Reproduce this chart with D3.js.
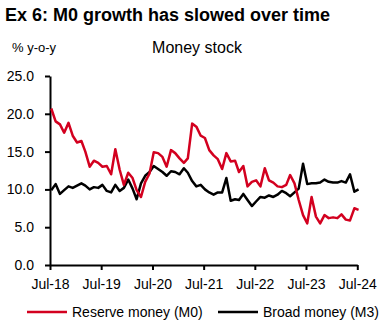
<!DOCTYPE html>
<html>
<head>
<meta charset="utf-8">
<style>
    body { margin: 0; background: #ffffff; }
    svg text { font-family: Arial, "Liberation Sans", Helvetica, sans-serif; fill: #000; }
    .axis path, .axis line { stroke: #000; stroke-width: 2px; }
    .axis text { font-size: 14px; }
</style>
</head>
<body>
<svg width="390" height="330" id="chart"></svg>
<script charset="utf-8" src="https://cdn.jsdelivr.net/npm/d3@7"></script>
<script charset="utf-8">

// monthly, Jul-18 .. Jul-24, % y-o-y
var startYear = 2018, startMonth = 6;

var reserveMoney = [
    20.7, 19.0, 18.6, 17.5, 18.8, 17.1, 16.2, 16.4, 15.0, 13.0,
    13.8, 13.5, 13.0, 13.1, 12.0, 15.3, 12.6, 10.6, 12.2, 11.5,
    9.9, 9.0, 11.0, 12.1, 14.9, 14.8, 14.3, 13.0, 15.2, 14.8,
    14.1, 13.5, 14.1, 18.7, 18.3, 17.1, 16.8, 15.2, 14.5, 14.0,
    12.7, 14.8, 13.7, 13.8, 12.3, 13.1, 10.4, 11.0, 11.2, 10.4,
    12.8, 11.2, 10.9, 10.4, 10.3, 10.6, 11.9, 10.8, 8.6, 6.6,
    5.5, 9.0, 6.4, 5.5, 6.6, 6.2, 6.3, 6.2, 6.7, 6.0,
    5.9, 7.5, 7.3
];

var broadMoney = [
    9.9, 10.7, 9.4, 9.9, 10.4, 10.2, 10.5, 10.8, 10.5, 10.0,
    10.3, 10.2, 10.6, 9.8, 9.6, 10.6, 9.8, 10.2, 11.3, 10.1,
    8.7, 10.8, 11.8, 12.3, 13.1, 12.7, 12.3, 11.8, 12.4, 12.3,
    12.0, 12.8, 12.2, 11.1, 10.4, 10.6, 10.0, 9.6, 9.3, 9.6,
    9.6, 11.5, 8.5, 8.7, 8.6, 9.4, 8.6, 7.8, 8.4, 9.0,
    8.9, 9.2, 9.0, 9.3, 9.8, 9.5, 9.1, 9.6, 10.1, 13.4,
    10.7, 10.8, 10.8, 10.9, 11.3, 11.0, 10.9, 10.9, 11.1, 10.9,
    12.0, 9.7, 10.0
];

var yTicks = [0, 5, 10, 15, 20, 25];
var xTickLabels = ["Jul-18", "Jul-19", "Jul-20", "Jul-21", "Jul-22", "Jul-23", "Jul-24"];

var seriesNames = ["Reserve money (M0)", "Broad money (M3)"];
var seriesColors = ["#d3001f", "#000000"];

var svg = d3.select("#chart");

var x = d3.scaleTime()
    .domain([new Date(2018, 6, 1), new Date(2024, 6, 1)])
    .range([50, 357.3]);

var y = d3.scaleLinear()
    .domain([0, 25])
    .range([265, 76]);

function monthDate(i) {
    return new Date(startYear, startMonth + i, 10);
}

// title + sub labels
svg.append("text")
    .attr("x", 5).attr("y", 21)
    .attr("font-size", "18px")
    .attr("font-weight", "bold")
    .text("Ex 6: M0 growth has slowed over time");

svg.append("text")
    .attr("x", 12).attr("y", 52)
    .attr("font-size", "13px")
    .text("% y-o-y");

svg.append("text")
    .attr("x", 197).attr("y", 53)
    .attr("font-size", "16px")
    .attr("text-anchor", "middle")
    .text("Money stock");

// axes
var xTickDates = xTickLabels.map(function(d, i) { return new Date(2018 + i, 6, 1); });

svg.append("g")
    .attr("class", "axis")
    .attr("transform", "translate(0," + y(0) + ")")
    .call(d3.axisBottom(x)
        .tickValues(xTickDates)
        .tickSizeInner(5).tickSizeOuter(0)
        .tickPadding(9)
        .tickFormat(function(d, i) { return xTickLabels[i]; }));

svg.append("g")
    .attr("class", "axis")
    .attr("transform", "translate(" + x.range()[0] + ",0)")
    .call(d3.axisLeft(y)
        .tickValues(yTicks)
        .tickSizeInner(5).tickSizeOuter(0)
        .tickPadding(11)
        .tickFormat(d3.format(".1f")));

// lines
var line = d3.line()
    .x(function(d, i) { return x(monthDate(i)); })
    .y(function(d) { return y(d); });

[broadMoney, reserveMoney].forEach(function(s, k) {
    svg.append("path")
        .datum(s)
        .attr("fill", "none")
        .attr("stroke", k === 0 ? seriesColors[1] : seriesColors[0])
        .attr("stroke-width", 2.5)
        .attr("stroke-linejoin", "round")
        .attr("d", line);
});

// legend
var legendX = [27, 218];
seriesNames.forEach(function(name, i) {
    var lg = svg.append("g").attr("transform", "translate(" + legendX[i] + ",312)");
    lg.append("line")
        .attr("x1", 0).attr("x2", 40)
        .attr("y1", 0).attr("y2", 0)
        .attr("stroke", seriesColors[i])
        .attr("stroke-width", 2.5);
    lg.append("text")
        .attr("x", 45).attr("y", 5)
        .attr("font-size", "14px")
        .text(name);
});
</script>
</body>
</html>
